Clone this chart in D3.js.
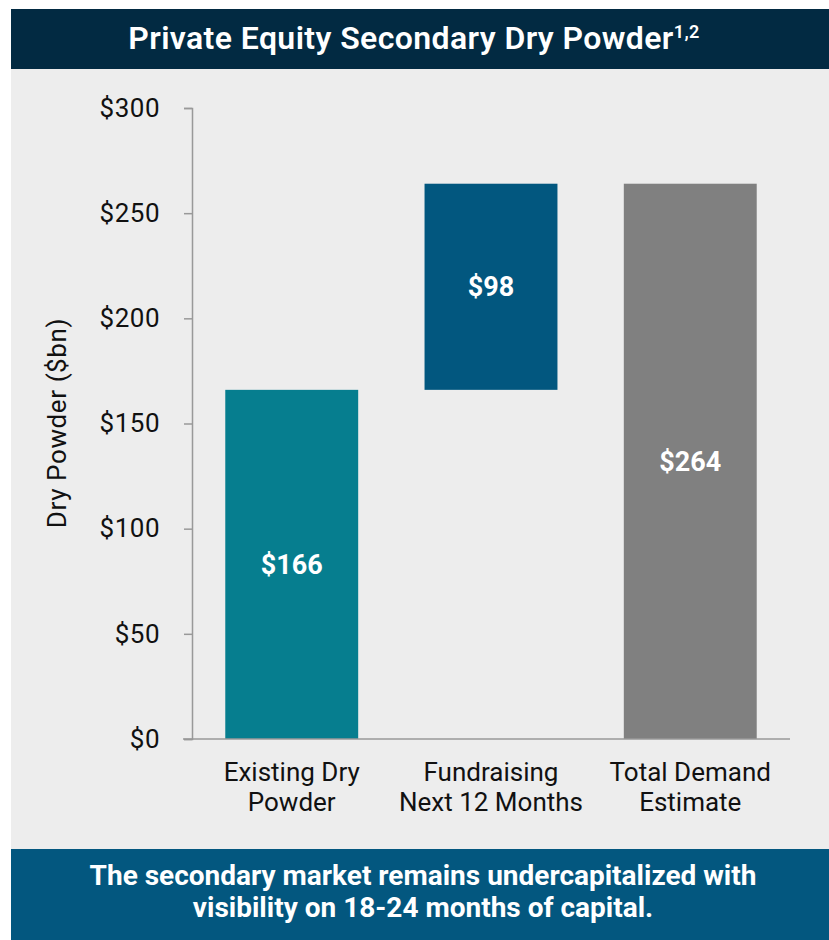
<!DOCTYPE html>
<html>
<head>
<meta charset="utf-8">
<script src="https://cdn.jsdelivr.net/npm/d3@7"></script>
<style>
  body { margin: 0; background: #fff; }
  svg text { font-family: Roboto, "Noto Sans", sans-serif; }
</style>
</head>
<body>
<div id="chart"></div>
<script>
// chart data
const categories = [["Existing Dry", "Powder"], ["Fundraising", "Next 12 Months"], ["Total Demand", "Estimate"]];
const barBase = [0, 166, 0];
const barValue = [166, 98, 264];
const barLabels = ["$166", "$98", "$264"];
const barColors = ["#067e8f", "#02577f", "#808080"];
const yTicks = [0, 50, 100, 150, 200, 250, 300];

const width = 829, height = 940;

const svg = d3.select("#chart").append("svg")
  .attr("width", width)
  .attr("height", height);

// panels
svg.append("rect").attr("x", 11).attr("y", 9).attr("width", width - 11).attr("height", 60).attr("fill", "#022a42");
svg.append("rect").attr("x", 11).attr("y", 69).attr("width", width - 11).attr("height", 780).attr("fill", "#ededed");
svg.append("rect").attr("x", 11).attr("y", 849).attr("width", width - 11).attr("height", 91).attr("fill", "#03577f");

// title
const title = svg.append("text")
  .attr("x", 414).attr("y", 49)
  .attr("text-anchor", "middle")
  .attr("fill", "#fff")
  .style("font-size", "32px")
  .style("letter-spacing", "0.4px")
  .style("font-weight", "600");
title.append("tspan").text("Private Equity Secondary Dry Powder");
title.append("tspan").attr("dy", -11).style("font-size", "18px").text("1,2");

// scales
const x = d3.scaleBand()
  .domain(d3.range(categories.length))
  .range([192, 790])
  .paddingInner(0.333)
  .paddingOuter(0.167);

const y = d3.scaleLinear().domain([0, 300]).range([739, 108]);

// y axis
const yAxis = svg.append("g")
  .attr("transform", "translate(192,0)")
  .call(d3.axisLeft(y).tickValues(yTicks).tickSize(8).tickPadding(24).tickFormat(d => "$" + d));
yAxis.select(".domain").attr("stroke", "#999").attr("stroke-width", 1.5);
yAxis.selectAll(".tick line").attr("stroke", "#999").attr("stroke-width", 1.5);
yAxis.selectAll(".tick text")
  .attr("fill", "#111")
  .style("font-size", "26px")
  .style("letter-spacing", "0.5px")
  .style("font-family", "Roboto, sans-serif");

// y title
svg.append("text")
  .attr("transform", "translate(66,423) rotate(-90)")
  .attr("text-anchor", "middle")
  .attr("fill", "#111")
  .style("font-size", "26px")
  .style("letter-spacing", "0.6px")
  .text("Dry Powder ($bn)");

// bars
svg.selectAll(".bar")
  .data(barValue)
  .join("rect")
  .attr("class", "bar")
  .attr("x", (d, i) => x(i))
  .attr("width", x.bandwidth())
  .attr("y", (d, i) => y(barBase[i] + d))
  .attr("height", (d, i) => y(barBase[i]) - y(barBase[i] + d))
  .attr("fill", (d, i) => barColors[i]);

// baseline
svg.append("line")
  .attr("x1", 183).attr("x2", 790)
  .attr("y1", y(0)).attr("y2", y(0))
  .attr("stroke", "#999").attr("stroke-width", 1.5);

// value labels
svg.selectAll(".val")
  .data(barValue)
  .join("text")
  .attr("class", "val")
  .attr("x", (d, i) => x(i) + x.bandwidth() / 2)
  .attr("y", (d, i) => (y(barBase[i]) + y(barBase[i] + d)) / 2)
  .attr("dy", "0.35em")
  .attr("text-anchor", "middle")
  .attr("fill", "#fff")
  .style("font-size", "27px")
  .style("font-weight", "700")
  .text((d, i) => barLabels[i]);

// category labels
const cat = svg.selectAll(".cat")
  .data(categories)
  .join("text")
  .attr("class", "cat")
  .attr("x", (d, i) => x(i) + x.bandwidth() / 2)
  .attr("y", 781)
  .attr("text-anchor", "middle")
  .attr("fill", "#111")
  .style("font-size", "26px");
cat.selectAll("tspan")
  .data(d => d)
  .join("tspan")
  .attr("x", function () { return d3.select(this.parentNode).attr("x"); })
  .attr("dy", (d, j) => j === 0 ? 0 : 30)
  .text(d => d);

// bottom note
const note = svg.append("text")
  .attr("text-anchor", "middle")
  .attr("fill", "#fff")
  .style("font-size", "28px")
  .style("font-weight", "700");
note.append("tspan").attr("x", 423).attr("y", 885).text("The secondary market remains undercapitalized with");
note.append("tspan").attr("x", 423).attr("y", 917).text("visibility on 18-24 months of capital.");
</script>
</body>
</html>
